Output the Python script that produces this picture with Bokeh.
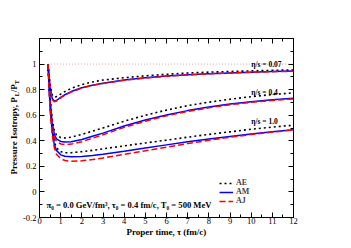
import math
from bokeh.plotting import figure
from bokeh.layouts import row
from bokeh.models import Range1d, LinearAxis, FixedTicker, Legend, LegendItem, Label, CustomJSTickFormatter
from bokeh.core.properties import value
from bokeh.embed import file_html
from bokeh.resources import INLINE

# ---------------- data ----------------
tau = [0.4, 0.5, 0.6, 0.7, 0.8, 1.0, 1.2, 1.5, 2.0, 2.5, 3.0, 4.0, 5.0, 6.0, 7.0, 8.0, 9.0, 10.0, 11.0, 12.0]

# eta/s = 0.07
ae_007 = [1.0, 0.84, 0.76, 0.742, 0.745, 0.765, 0.785, 0.81, 0.84, 0.86, 0.875, 0.893, 0.908, 0.92, 0.93, 0.937, 0.942, 0.947, 0.951, 0.954]
am_007 = [1.0, 0.82, 0.73, 0.712, 0.715, 0.74, 0.76, 0.785, 0.815, 0.835, 0.85, 0.875, 0.893, 0.906, 0.916, 0.925, 0.931, 0.937, 0.941, 0.945]
aj_007 = [1.0, 0.81, 0.722, 0.705, 0.71, 0.735, 0.756, 0.782, 0.812, 0.833, 0.848, 0.873, 0.891, 0.905, 0.915, 0.924, 0.93, 0.936, 0.94, 0.944]

# eta/s = 0.4
ae_04 = [1.0, 0.74, 0.57, 0.48, 0.445, 0.425, 0.422, 0.428, 0.45, 0.475, 0.5, 0.553, 0.6, 0.64, 0.675, 0.702, 0.725, 0.745, 0.762, 0.775]
am_04 = [1.0, 0.72, 0.54, 0.45, 0.415, 0.395, 0.39, 0.393, 0.41, 0.435, 0.46, 0.515, 0.562, 0.602, 0.636, 0.664, 0.687, 0.706, 0.72, 0.732]
aj_04 = [1.0, 0.71, 0.52, 0.43, 0.395, 0.375, 0.37, 0.374, 0.393, 0.42, 0.447, 0.505, 0.553, 0.595, 0.63, 0.658, 0.682, 0.701, 0.716, 0.728]

# eta/s = 1.0
ae_10 = [1.0, 0.68, 0.49, 0.39, 0.345, 0.315, 0.307, 0.307, 0.315, 0.325, 0.337, 0.36, 0.383, 0.405, 0.428, 0.45, 0.47, 0.49, 0.507, 0.522]
am_10 = [1.0, 0.66, 0.47, 0.37, 0.325, 0.29, 0.279, 0.275, 0.277, 0.285, 0.295, 0.318, 0.343, 0.368, 0.392, 0.414, 0.434, 0.453, 0.47, 0.487]
aj_10 = [1.0, 0.64, 0.45, 0.345, 0.295, 0.26, 0.246, 0.24, 0.243, 0.253, 0.266, 0.294, 0.322, 0.35, 0.378, 0.404, 0.428, 0.449, 0.468, 0.484]

ref_tau = [0.4, 12.0]
ref_val = [1.0, 1.0]

x_ticks = [0, 1, 2, 3, 4, 5, 6, 7, 8, 9, 10, 11, 12]
x_minor = [0.5, 1.5, 2.5, 3.5, 4.5, 5.5, 6.5, 7.5, 8.5, 9.5, 10.5, 11.5]
y_ticks = [-0.2, 0, 0.2, 0.4, 0.6, 0.8, 1.0]
y_minor = [-0.1, 0.1, 0.3, 0.5, 0.7, 0.9, 1.1]

eta_labels = ["η/s = 0.07", "η/s = 0.4", "η/s = 1.0"]
eta_label_y = [0.997, 0.778, 0.551]
eta_label_x = 10.0

FONT = "Liberation Serif"
TOP, BOTTOM, FRAME_H = 38, 31, 179
LEFT_W = 20

# ---------------- y-axis title panel (allows subscripts) ----------------
ylab = figure(width=LEFT_W, height=TOP + FRAME_H + BOTTOM, x_range=Range1d(0, LEFT_W),
              y_range=Range1d(-0.2, 1.2), output_backend="svg", toolbar_location=None,
              x_axis_location=None, y_axis_location=None,
              min_border_left=0, min_border_right=0, min_border_top=TOP, min_border_bottom=BOTTOM)
ylab.xgrid.visible = False
ylab.ygrid.visible = False
ylab.outline_line_color = None

px = 1.4 / FRAME_H  # data units per pixel (vertical)
pieces = ["Pressure Isotropy, P", "L", "/P", "T"]
sizes = ["9px", "6px", "9px", "6px"]
center_x = [13.5, 16.5, 13.5, 16.5]
widths = [78.2, 4.0, 8.0, 4.0]
start = 0.5 - 46.5 * px
ys = []
for w in widths:
    ys.append(start)
    start += w * px
for t, s, cx, yy in zip(pieces, sizes, center_x, ys):
    ylab.text(x=[cx], y=[yy], text=[t], angle=math.pi / 2, text_font=value(FONT),
              text_font_style="bold", text_font_size=s, text_baseline="middle",
              text_align="left", text_color="black")

# ---------------- main figure ----------------
p = figure(width=343 - LEFT_W, height=TOP + FRAME_H + BOTTOM, x_range=Range1d(0, 12),
           y_range=Range1d(-0.2, 1.2), output_backend="svg", toolbar_location=None,
           min_border_left=38 - LEFT_W, min_border_right=50, min_border_top=TOP,
           min_border_bottom=BOTTOM)
p.xgrid.visible = False
p.ygrid.visible = False
p.outline_line_color = "black"

xa = p.below[0]
ya = p.left[0]

fmt = CustomJSTickFormatter(code="return String(Math.round(tick*10)/10);")
blank = CustomJSTickFormatter(code="return '';")

xa.ticker = FixedTicker(ticks=x_ticks, minor_ticks=x_minor)
ya.ticker = FixedTicker(ticks=y_ticks, minor_ticks=y_minor)
xa.formatter = fmt
ya.formatter = fmt

top = LinearAxis(ticker=FixedTicker(ticks=x_ticks, minor_ticks=x_minor), formatter=blank)
right = LinearAxis(ticker=FixedTicker(ticks=y_ticks, minor_ticks=y_minor), formatter=blank)
p.add_layout(top, "above")
p.add_layout(right, "right")

for ax in (xa, ya, top, right):
    ax.major_tick_in = 5
    ax.major_tick_out = 0
    ax.minor_tick_in = 3
    ax.minor_tick_out = 0
    ax.axis_line_color = "black"
    ax.major_tick_line_color = "black"
    ax.minor_tick_line_color = "black"
    ax.major_label_text_font = FONT
    ax.major_label_text_font_size = "8.5px"
    ax.major_label_text_color = "black"

top.major_label_text_font_size = "1px"
right.major_label_text_font_size = "1px"
xa.major_label_standoff = 0
ya.major_label_standoff = 3

xa.axis_label = "Proper time, τ (fm/c)"
xa.axis_label_text_font = FONT
xa.axis_label_text_font_style = "bold"
xa.axis_label_text_font_size = "9px"
xa.axis_label_standoff = 0
xa.axis_label_text_color = "black"

# reference line
p.line(ref_tau, ref_val, color="#f4a0a0", line_dash="1 2", line_width=1)

# curves
series = [(ae_007, am_007, aj_007), (ae_04, am_04, aj_04), (ae_10, am_10, aj_10)]
leg = {}
for ae, am, aj in series:
    r1 = p.line(tau, ae, color="black", line_dash="2 3", line_width=1.6)
    r2 = p.line(tau, am, color="#0000ff", line_width=1.5)
    r3 = p.line(tau, aj, color="#ff0000", line_dash="6 3", line_width=1.5)
    leg.setdefault("AE", r1)
    leg.setdefault("AM", r2)
    leg.setdefault("AJ", r3)

legend = Legend(items=[LegendItem(label=k, renderers=[leg[k]]) for k in ["AE", "AM", "AJ"]],
                location=(180, 12), background_fill_alpha=0, border_line_color=None,
                padding=0, spacing=-1, margin=0, glyph_width=14, glyph_height=8, label_height=8,
                label_standoff=3, label_text_font=FONT, label_text_font_style="bold",
                label_text_font_size="8px", label_text_line_height=1.0)
p.add_layout(legend, "center")

# eta/s labels
for t, yy in zip(eta_labels, eta_label_y):
    p.add_layout(Label(x=eta_label_x, y=yy, text=t, text_font=FONT, text_font_style="bold",
                       text_font_size="7.5px", text_baseline="middle", text_align="left",
                       text_color="black"))

# parameter annotation
p.add_layout(Label(x=0.33, y=-0.105, text="π₀ = 0.0 GeV/fm³, τ₀ = 0.4 fm/c, T₀ = 500 MeV",
                   text_font=FONT, text_font_style="bold", text_font_size="8.6px",
                   text_baseline="middle", text_align="left", text_color="black"))

layout = row(ylab, p, spacing=0)
open("out.html", "w").write(file_html(layout, INLINE))
